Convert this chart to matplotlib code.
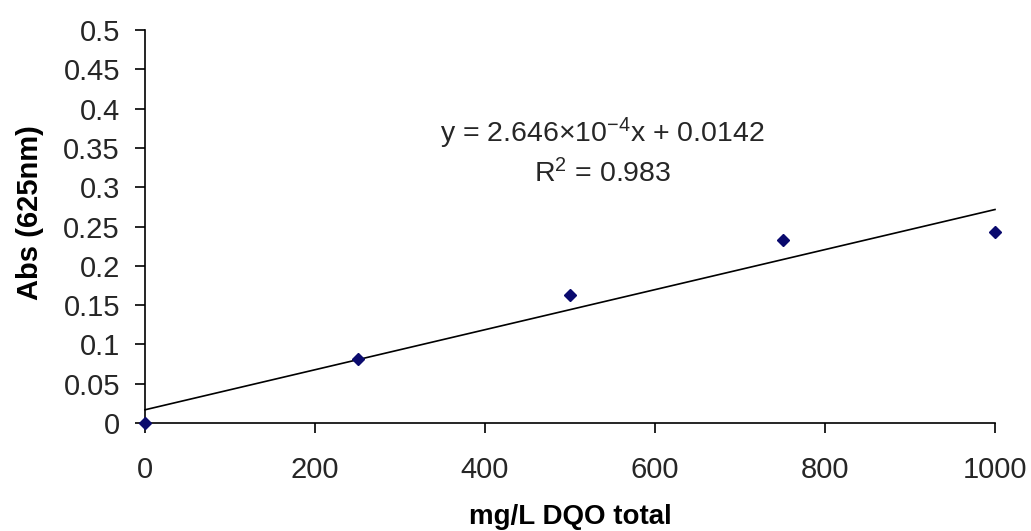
import numpy as np
import matplotlib.pyplot as plt

# data
dqo = [0, 250, 500, 750, 1000]
absorb = [0.0, 0.082, 0.163, 0.233, 0.243]

# equation as printed on the chart
eq_text = 'y = 2.646×10$^{-4}$x + 0.0142'
r2_text = 'R$^{2}$ = 0.983'

x_ticks = [0, 200, 400, 600, 800, 1000]
y_ticks = [0, 0.05, 0.1, 0.15, 0.2, 0.25, 0.3, 0.35, 0.4, 0.45, 0.5]

plt.rcParams['font.family'] = ['Liberation Sans', 'DejaVu Sans']
plt.rcParams['mathtext.fontset'] = 'custom'
plt.rcParams['mathtext.rm'] = 'Liberation Sans'
plt.rcParams['mathtext.it'] = 'Liberation Sans'
plt.rcParams['mathtext.default'] = 'regular'

fig = plt.figure(figsize=(10.31, 5.31), dpi=100)
ax = fig.add_axes([145 / 1031, 1 - 423 / 531, 850 / 1031, 393 / 531])

# linear trend line through the points
m, b = np.polyfit(dqo, absorb, 1)
xs = np.array([dqo[0], dqo[-1]])
ax.plot(xs, m * xs + b, color='black', lw=1.2, clip_on=False)

# points
ax.plot(dqo, absorb, linestyle='none', marker='D', markersize=6.5,
        color='#0a0a6e', clip_on=False, zorder=5)

ax.set_xlim(0, 1000)
ax.set_ylim(0, 0.5)
ax.set_xticks(x_ticks)
ax.set_yticks(y_ticks)
ax.set_xticklabels([str(v) for v in x_ticks])
ax.set_yticklabels([f"{v:g}" for v in y_ticks])

for side in ('top', 'right'):
    ax.spines[side].set_visible(False)
for side in ('left', 'bottom'):
    ax.spines[side].set_linewidth(1.2)

ax.tick_params(axis='both', direction='out', length=7, width=1.2,
               labelsize=21, labelcolor='#262626')
ax.tick_params(axis='x', pad=17)
ax.tick_params(axis='y', pad=11)

ax.set_xlabel('mg/L DQO total', fontsize=20, fontweight='bold')
ax.set_ylabel('Abs (625nm)', fontsize=21, fontweight='bold')
ax.xaxis.set_label_coords(0.5, (531 - 517 - 108) / 393, transform=ax.transAxes)
ax.xaxis.label.set_va('center')
ax.yaxis.set_label_coords((30 - 145) / 850, (423 - 213) / 393, transform=ax.transAxes)
ax.yaxis.label.set_va('center')

# equation text
ax.text(538, 0.368, eq_text, ha='center', va='center', fontsize=20.5, color='#262626')
ax.text(538, 0.317, r2_text, ha='center', va='center', fontsize=20.5, color='#262626')

fig.savefig('out.png', dpi=100)
